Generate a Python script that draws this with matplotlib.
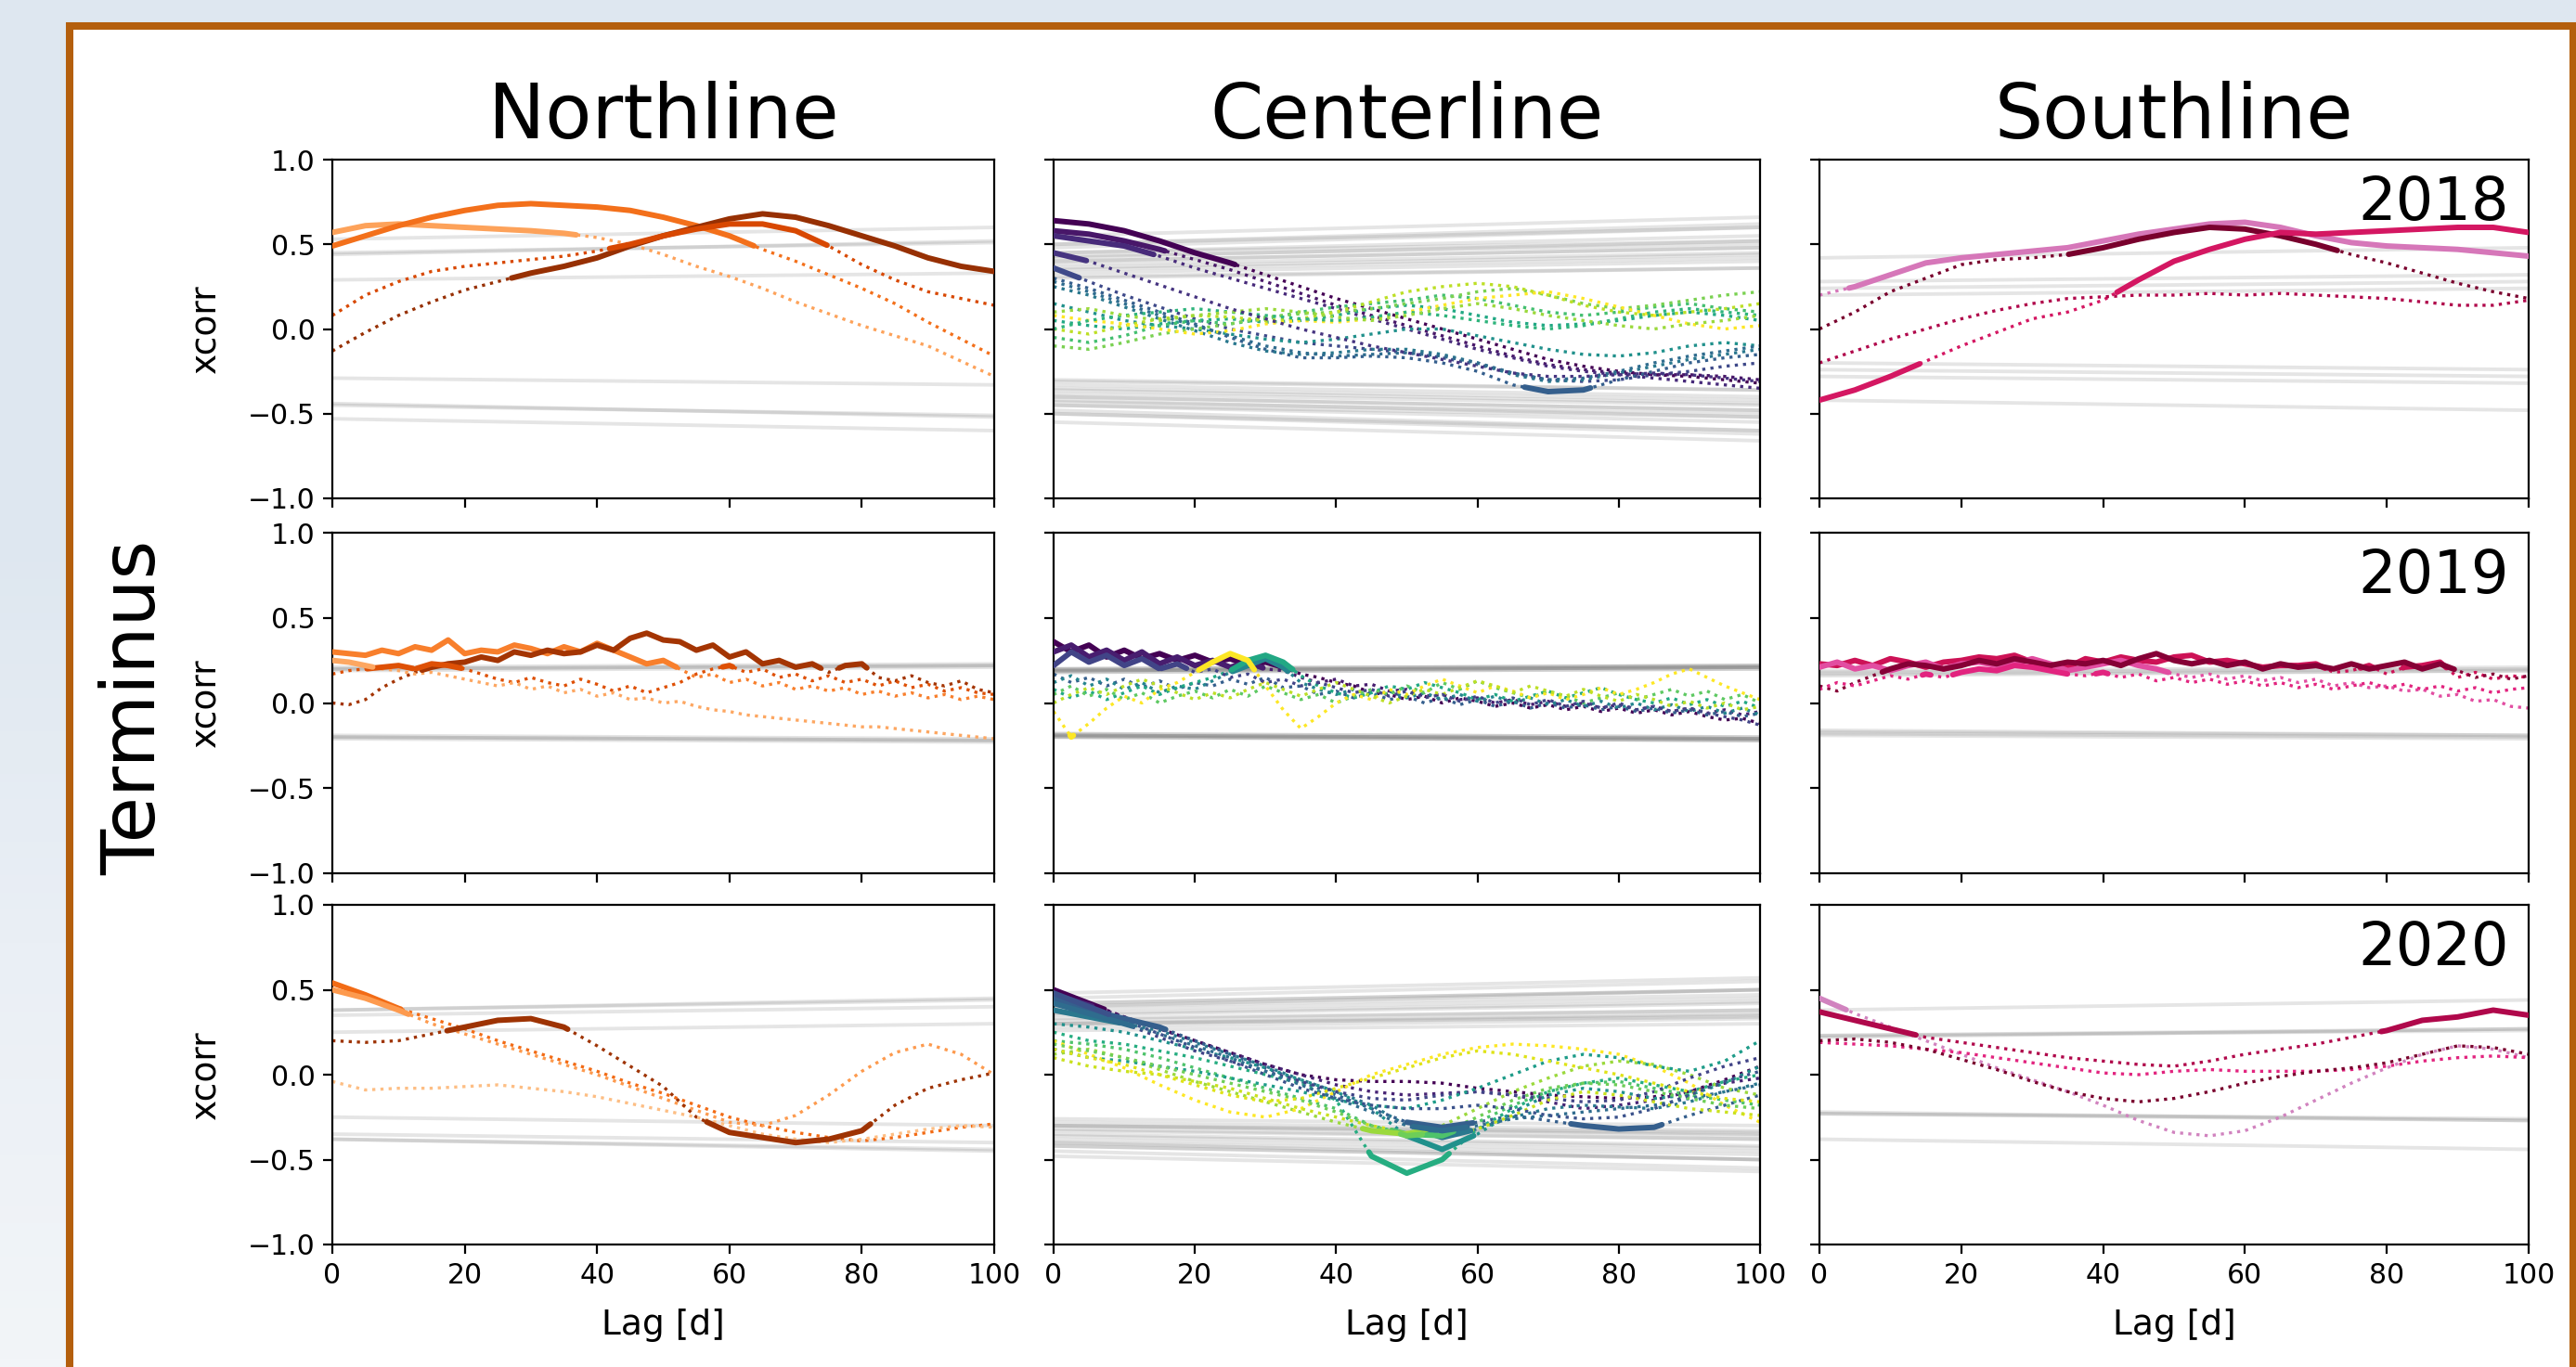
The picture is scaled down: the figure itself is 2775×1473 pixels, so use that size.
import numpy as np
import matplotlib
matplotlib.use('Agg')
import matplotlib.pyplot as plt
from matplotlib import patches
from matplotlib.colors import LinearSegmentedColormap

matplotlib.rcParams.update({
    'font.family': 'DejaVu Sans',
    'axes.linewidth': 1.6,
    'xtick.major.width': 1.6,
    'ytick.major.width': 1.6,
    'xtick.major.size': 6.9,
    'ytick.major.size': 6.9,
    'xtick.major.pad': 6.5,
    'ytick.major.pad': 6.5,
    'xtick.labelsize': 21.5,
    'ytick.labelsize': 21.5,
})

W, H = 2775, 1473

COLUMNS = ['Northline', 'Centerline', 'Southline']
YEARS = ['2018', '2019', '2020']
CMAPS = ['Oranges', 'viridis', 'PuRd']

LAG5 = [0, 5, 10, 15, 20, 25, 30, 35, 40, 45, 50, 55, 60, 65, 70, 75, 80, 85, 90, 95, 100]
LAG25 = [0, 2.5, 5, 7.5, 10, 12.5, 15, 17.5, 20, 22.5, 25, 27.5, 30, 32.5, 35, 37.5, 40,
         42.5, 45, 47.5, 50, 52.5, 55, 57.5, 60, 62.5, 65, 67.5, 70, 72.5, 75, 77.5, 80,
         82.5, 85, 87.5, 90, 92.5, 95, 97.5, 100]

# ---- Northline -------------------------------------------------------------
N18_SHADE = [0.42, 0.6, 0.92, 0.75]
N18_THR0 = [0.53, 0.44, 0.29, 0.45]
N18_THR1 = [0.60, 0.52, 0.33, 0.51]
N18_XCORR = [
    [0.57, 0.61, 0.62, 0.61, 0.60, 0.59, 0.58, 0.565, 0.54, 0.50, 0.44, 0.37, 0.31, 0.24, 0.16, 0.09, 0.02, -0.04, -0.10, -0.19, -0.28],
    [0.49, 0.55, 0.61, 0.66, 0.70, 0.73, 0.74, 0.73, 0.72, 0.70, 0.66, 0.61, 0.55, 0.47, 0.40, 0.32, 0.24, 0.15, 0.04, -0.06, -0.16],
    [-0.13, -0.02, 0.08, 0.16, 0.23, 0.28, 0.33, 0.37, 0.42, 0.49, 0.55, 0.60, 0.65, 0.68, 0.66, 0.61, 0.55, 0.49, 0.42, 0.37, 0.34],
    [0.08, 0.20, 0.28, 0.34, 0.37, 0.39, 0.41, 0.43, 0.46, 0.50, 0.55, 0.59, 0.62, 0.62, 0.58, 0.49, 0.38, 0.29, 0.22, 0.18, 0.14],
]

N19_SHADE = [0.55, 0.88, 0.72, 0.4]
N19_THR0 = [0.20, 0.19, 0.20, 0.21]
N19_THR1 = [0.22, 0.21, 0.22, 0.23]
N19_XCORR = [
    [0.30, 0.29, 0.28, 0.31, 0.29, 0.33, 0.31, 0.37, 0.29, 0.31,
     0.30, 0.34, 0.32, 0.29, 0.33, 0.30, 0.35, 0.31, 0.27, 0.23,
     0.25, 0.20, 0.15, 0.17, 0.12, 0.14, 0.10, 0.12, 0.08, 0.10,
     0.07, 0.09, 0.05, 0.07, 0.04, 0.06, 0.03, 0.05, 0.02, 0.04, 0.02],
    [0.00, -0.01, 0.02, 0.09, 0.14, 0.18, 0.21, 0.23, 0.24, 0.27,
     0.25, 0.30, 0.28, 0.31, 0.29, 0.30, 0.34, 0.31, 0.38, 0.41,
     0.37, 0.36, 0.31, 0.34, 0.27, 0.30, 0.23, 0.25, 0.21, 0.23,
     0.18, 0.22, 0.23, 0.15, 0.13, 0.16, 0.12, 0.10, 0.13, 0.08, 0.06],
    [0.17, 0.19, 0.20, 0.21, 0.22, 0.20, 0.23, 0.22, 0.20, 0.17,
     0.14, 0.12, 0.15, 0.12, 0.10, 0.14, 0.11, 0.07, 0.10, 0.06,
     0.09, 0.12, 0.17, 0.20, 0.22, 0.18, 0.20, 0.15, 0.17, 0.13,
     0.16, 0.12, 0.14, 0.10, 0.13, 0.09, 0.11, 0.07, 0.09, 0.06, 0.05],
    [0.25, 0.24, 0.22, 0.20, 0.19, 0.17, 0.18, 0.16, 0.14, 0.12,
     0.10, 0.12, 0.08, 0.10, 0.06, 0.08, 0.04, 0.06, 0.02, 0.03,
     0.00, 0.01, -0.02, -0.04, -0.05, -0.07, -0.08, -0.09, -0.10, -0.11,
     -0.12, -0.13, -0.14, -0.14, -0.15, -0.16, -0.17, -0.18, -0.19, -0.20, -0.21],
]

N20_SHADE = [0.62, 0.45, 0.9, 0.32]
N20_THR0 = [0.38, 0.35, 0.25, 0.38]
N20_THR1 = [0.44, 0.40, 0.30, 0.45]
N20_XCORR = [
    [0.54, 0.47, 0.39, 0.33, 0.27, 0.20, 0.14, 0.08, 0.02, -0.05, -0.11, -0.18, -0.25, -0.30, -0.34, -0.37, -0.39, -0.37, -0.34, -0.31, -0.29],
    [0.50, 0.45, 0.38, 0.30, 0.24, 0.18, 0.12, 0.06, 0.00, -0.07, -0.14, -0.21, -0.28, -0.30, -0.24, -0.12, 0.02, 0.13, 0.18, 0.12, 0.00],
    [0.20, 0.19, 0.20, 0.24, 0.28, 0.32, 0.33, 0.28, 0.17, 0.05, -0.07, -0.25, -0.34, -0.37, -0.40, -0.38, -0.33, -0.18, -0.08, -0.03, 0.01],
    [-0.04, -0.09, -0.08, -0.08, -0.07, -0.06, -0.08, -0.10, -0.13, -0.17, -0.21, -0.25, -0.30, -0.35, -0.38, -0.40, -0.38, -0.35, -0.32, -0.30, -0.31],
]

# ---- Centerline ------------------------------------------------------------
C18_SHADE = [0.0, 0.06, 0.12, 0.22, 0.3, 0.4, 0.5, 0.6, 0.7, 0.8, 0.9, 1.0, 0.35, 0.65, 0.85, 0.15]
C18_THR0 = [0.36, 0.45, 0.43, 0.30, 0.31, 0.35, 0.38, 0.40, 0.45, 0.48, 0.50, 0.55, 0.33, 0.42, 0.50, 0.40]
C18_THR1 = [0.44, 0.52, 0.50, 0.36, 0.36, 0.42, 0.45, 0.48, 0.55, 0.60, 0.62, 0.66, 0.40, 0.52, 0.60, 0.48]
C18_XCORR = [
    [0.64, 0.62, 0.58, 0.52, 0.45, 0.39, 0.32, 0.25, 0.18, 0.12, 0.06, 0.00, -0.06, -0.12, -0.18, -0.22, -0.25, -0.27, -0.28, -0.30, -0.32],
    [0.58, 0.56, 0.52, 0.47, 0.41, 0.35, 0.28, 0.21, 0.14, 0.08, 0.02, -0.04, -0.10, -0.16, -0.21, -0.24, -0.26, -0.27, -0.27, -0.28, -0.30],
    [0.55, 0.52, 0.49, 0.43, 0.36, 0.30, 0.24, 0.18, 0.12, 0.06, 0.00, -0.06, -0.12, -0.17, -0.22, -0.25, -0.27, -0.29, -0.31, -0.33, -0.35],
    [0.36, 0.28, 0.20, 0.13, 0.06, 0.00, -0.04, -0.08, -0.10, -0.12, -0.14, -0.17, -0.21, -0.26, -0.30, -0.31, -0.30, -0.27, -0.25, -0.22, -0.20],
    [0.30, 0.24, 0.17, 0.10, 0.03, -0.05, -0.12, -0.17, -0.17, -0.16, -0.17, -0.20, -0.25, -0.33, -0.37, -0.36, -0.30, -0.25, -0.20, -0.17, -0.15],
    [0.25, 0.20, 0.13, 0.06, -0.01, -0.08, -0.13, -0.15, -0.14, -0.12, -0.12, -0.15, -0.20, -0.27, -0.31, -0.30, -0.26, -0.22, -0.18, -0.15, -0.12],
    [0.15, 0.10, 0.05, 0.02, 0.00, -0.03, -0.06, -0.08, -0.06, -0.03, 0.00, 0.00, -0.04, -0.08, -0.12, -0.15, -0.16, -0.14, -0.10, -0.08, -0.10],
    [0.05, 0.02, 0.00, 0.03, 0.05, 0.06, 0.04, 0.05, 0.08, 0.12, 0.14, 0.12, 0.08, 0.04, 0.02, 0.03, 0.05, 0.08, 0.10, 0.08, 0.05],
    [-0.05, -0.08, -0.04, 0.02, 0.05, 0.03, 0.06, 0.10, 0.13, 0.15, 0.17, 0.20, 0.18, 0.14, 0.10, 0.08, 0.10, 0.13, 0.15, 0.12, 0.10],
    [-0.10, -0.12, -0.08, -0.03, 0.00, 0.03, 0.07, 0.09, 0.10, 0.12, 0.15, 0.18, 0.22, 0.24, 0.20, 0.15, 0.12, 0.14, 0.17, 0.20, 0.22],
    [0.00, -0.03, 0.02, 0.06, 0.08, 0.07, 0.05, 0.06, 0.10, 0.16, 0.22, 0.25, 0.27, 0.25, 0.20, 0.14, 0.10, 0.08, 0.10, 0.12, 0.15],
    [0.08, 0.05, 0.03, 0.00, -0.03, -0.01, 0.03, 0.05, 0.04, 0.06, 0.10, 0.14, 0.18, 0.20, 0.22, 0.18, 0.13, 0.08, 0.03, 0.00, 0.02],
    [0.28, 0.22, 0.15, 0.08, 0.02, -0.04, -0.10, -0.14, -0.16, -0.15, -0.14, -0.16, -0.20, -0.26, -0.30, -0.29, -0.25, -0.20, -0.16, -0.13, -0.10],
    [0.00, 0.05, 0.08, 0.10, 0.12, 0.10, 0.08, 0.06, 0.05, 0.07, 0.10, 0.08, 0.05, 0.02, 0.00, 0.02, 0.06, 0.10, 0.12, 0.10, 0.08],
    [0.10, 0.12, 0.08, 0.05, 0.08, 0.10, 0.12, 0.10, 0.07, 0.05, 0.08, 0.12, 0.15, 0.12, 0.08, 0.05, 0.02, 0.00, 0.03, 0.05, 0.08],
    [0.45, 0.40, 0.33, 0.26, 0.19, 0.12, 0.06, 0.00, -0.05, -0.10, -0.14, -0.18, -0.22, -0.26, -0.28, -0.28, -0.27, -0.26, -0.27, -0.29, -0.31],
]

C19_SHADE = [0.0, 0.08, 0.3, 0.45, 0.6, 0.75, 1.0, 0.9, 0.2]
C19_THR0 = [0.19, 0.20, 0.19, 0.18, 0.19, 0.20, 0.19, 0.18, 0.20]
C19_THR1 = [0.21, 0.22, 0.21, 0.20, 0.21, 0.22, 0.21, 0.20, 0.22]
C19_XCORR = [
    [0.36, 0.30, 0.34, 0.27, 0.31, 0.26, 0.29, 0.25, 0.28, 0.24,
     0.26, 0.22, 0.24, 0.21, 0.17, 0.15, 0.12, 0.10, 0.06, 0.05,
     0.02, 0.04, 0.00, 0.03, 0.01, -0.02, 0.00, -0.03, -0.01, -0.04,
     -0.02, -0.05, -0.03, -0.06, -0.04, -0.07, -0.05, -0.08, -0.10, -0.09, -0.12],
    [0.30, 0.34, 0.27, 0.31, 0.25, 0.30, 0.23, 0.27, 0.22, 0.25,
     0.21, 0.24, 0.20, 0.19, 0.15, 0.12, 0.14, 0.10, 0.11, 0.07,
     0.08, 0.04, 0.05, 0.02, 0.03, 0.00, 0.02, -0.01, 0.01, -0.02,
     0.00, -0.03, -0.01, -0.04, -0.02, -0.05, -0.03, -0.06, -0.04, -0.07, -0.05],
    [0.17, 0.12, 0.15, 0.10, 0.14, 0.09, 0.13, 0.08, 0.12, 0.10,
     0.14, 0.11, 0.15, 0.09, 0.10, 0.05, 0.07, 0.03, 0.06, 0.02,
     0.04, 0.00, 0.03, -0.01, 0.02, -0.02, 0.01, -0.03, 0.00, -0.03,
     -0.01, -0.04, -0.02, -0.05, -0.03, -0.06, -0.04, -0.07, -0.05, -0.08, -0.06],
    [0.12, 0.16, 0.10, 0.14, 0.08, 0.12, 0.06, 0.10, 0.08, 0.13,
     0.18, 0.22, 0.26, 0.21, 0.12, 0.08, 0.05, 0.08, 0.04, 0.07,
     0.03, 0.06, 0.02, 0.05, 0.01, 0.04, 0.00, 0.03, -0.01, 0.02,
     -0.02, 0.01, -0.03, 0.00, -0.04, -0.01, -0.05, -0.02, -0.06, -0.03, -0.07],
    [0.08, 0.03, 0.07, 0.02, 0.06, 0.10, 0.05, 0.09, 0.12, 0.15,
     0.19, 0.25, 0.28, 0.24, 0.16, 0.10, 0.06, 0.03, 0.06, 0.10,
     0.08, 0.12, 0.09, 0.06, 0.02, 0.05, 0.01, 0.04, 0.07, 0.03,
     0.06, 0.09, 0.05, 0.02, 0.00, 0.03, -0.01, 0.02, -0.02, 0.01, -0.03],
    [0.05, 0.10, 0.04, 0.08, 0.02, 0.06, 0.00, 0.04, 0.07, 0.03,
     0.08, 0.04, 0.10, 0.06, 0.02, 0.05, 0.00, 0.04, 0.08, 0.05,
     0.10, 0.06, 0.12, 0.08, 0.13, 0.09, 0.06, 0.03, 0.07, 0.04,
     0.00, 0.03, 0.06, 0.02, 0.05, 0.08, 0.04, 0.07, 0.02, 0.05, 0.00],
    [-0.05, -0.20, -0.12, -0.03, 0.04, 0.00, 0.08, 0.12, 0.18, 0.24,
     0.29, 0.25, 0.10, -0.04, -0.15, -0.08, 0.00, 0.05, 0.02, 0.08,
     0.05, 0.10, 0.14, 0.10, 0.06, 0.10, 0.07, 0.03, 0.06, 0.02,
     0.05, 0.09, 0.05, 0.08, 0.12, 0.17, 0.20, 0.15, 0.10, 0.06, 0.02],
    [0.00, 0.05, 0.09, 0.05, 0.10, 0.14, 0.10, 0.06, 0.02, 0.06,
     0.03, 0.08, 0.12, 0.08, 0.04, 0.08, 0.12, 0.08, 0.04, 0.00,
     0.04, 0.08, 0.05, 0.09, 0.13, 0.10, 0.06, 0.10, 0.07, 0.04,
     0.08, 0.04, 0.01, 0.05, 0.02, -0.02, 0.01, -0.03, 0.00, -0.04, -0.02],
    [0.22, 0.30, 0.24, 0.28, 0.22, 0.26, 0.20, 0.23, 0.18, 0.20,
     0.15, 0.17, 0.12, 0.14, 0.10, 0.12, 0.09, 0.06, 0.08, 0.04,
     0.07, 0.03, 0.05, 0.01, 0.04, 0.00, 0.03, -0.01, 0.02, -0.02,
     0.01, -0.03, 0.00, -0.04, -0.02, -0.05, -0.03, -0.06, -0.08, -0.10, -0.13],
]

C20_SHADE = [0.0, 0.1, 0.3, 0.4, 0.5, 0.62, 0.72, 0.85, 1.0, 0.2, 0.55, 0.92, 0.35, 0.78, 0.95, 0.25]
C20_THR0 = [0.38, 0.40, 0.26, 0.30, 0.33, 0.42, 0.30, 0.30, 0.45, 0.42, 0.48, 0.36, 0.28, 0.32, 0.40, 0.35]
C20_THR1 = [0.45, 0.47, 0.30, 0.35, 0.38, 0.50, 0.36, 0.34, 0.55, 0.50, 0.57, 0.43, 0.33, 0.38, 0.50, 0.42]
C20_XCORR = [
    [0.50, 0.42, 0.34, 0.27, 0.20, 0.13, 0.06, 0.00, -0.03, -0.04, -0.04, -0.05, -0.08, -0.10, -0.12, -0.13, -0.14, -0.13, -0.10, -0.03, 0.05],
    [0.47, 0.41, 0.34, 0.27, 0.20, 0.13, 0.06, 0.00, -0.06, -0.10, -0.12, -0.11, -0.10, -0.12, -0.16, -0.20, -0.18, -0.15, -0.10, -0.05, -0.02],
    [0.45, 0.38, 0.33, 0.28, 0.20, 0.12, 0.04, -0.04, -0.12, -0.20, -0.28, -0.31, -0.28, -0.24, -0.27, -0.30, -0.32, -0.31, -0.24, -0.18, -0.12],
    [0.38, 0.34, 0.30, 0.26, 0.19, 0.12, 0.05, -0.03, -0.10, -0.18, -0.30, -0.37, -0.32, -0.25, -0.20, -0.18, -0.19, -0.20, -0.16, -0.10, -0.05],
    [0.30, 0.28, 0.25, 0.20, 0.15, 0.10, 0.04, -0.03, -0.10, -0.20, -0.36, -0.44, -0.35, -0.22, -0.12, -0.08, -0.10, -0.14, -0.12, -0.05, 0.05],
    [0.25, 0.20, 0.18, 0.14, 0.10, 0.05, 0.00, -0.05, -0.15, -0.48, -0.58, -0.50, -0.32, -0.20, -0.10, -0.05, -0.02, -0.06, -0.10, -0.04, 0.00],
    [0.20, 0.18, 0.15, 0.10, 0.04, -0.02, -0.08, -0.14, -0.20, -0.30, -0.35, -0.36, -0.28, -0.18, -0.10, -0.05, -0.04, -0.08, -0.12, -0.15, -0.18],
    [0.12, 0.15, 0.10, 0.03, -0.04, -0.10, -0.16, -0.22, -0.28, -0.33, -0.35, -0.30, -0.20, -0.10, -0.02, 0.05, 0.08, 0.06, 0.00, -0.08, -0.12],
    [0.20, 0.12, 0.04, -0.06, -0.15, -0.22, -0.25, -0.20, -0.10, 0.00, 0.06, 0.12, 0.16, 0.18, 0.17, 0.15, 0.12, 0.05, -0.05, -0.18, -0.28],
    [0.42, 0.36, 0.30, 0.22, 0.14, 0.08, 0.02, -0.04, -0.10, -0.14, -0.15, -0.12, -0.10, -0.12, -0.14, -0.16, -0.15, -0.10, -0.02, 0.05, 0.10],
    [0.15, 0.10, 0.08, 0.05, 0.02, -0.02, -0.06, -0.10, -0.15, -0.18, -0.20, -0.15, -0.08, 0.00, 0.08, 0.12, 0.10, 0.05, 0.02, 0.08, 0.20],
    [0.10, 0.05, 0.02, 0.00, -0.04, -0.08, -0.14, -0.20, -0.25, -0.30, -0.34, -0.36, -0.32, -0.24, -0.15, -0.10, -0.12, -0.16, -0.20, -0.22, -0.24],
    [0.42, 0.36, 0.30, 0.24, 0.17, 0.10, 0.02, -0.06, -0.14, -0.22, -0.30, -0.33, -0.30, -0.26, -0.24, -0.22, -0.20, -0.18, -0.14, -0.10, -0.06],
    [0.18, 0.14, 0.10, 0.05, 0.00, -0.05, -0.10, -0.15, -0.22, -0.30, -0.36, -0.34, -0.25, -0.15, -0.08, -0.05, -0.06, -0.10, -0.14, -0.18, -0.20],
    [0.15, 0.10, 0.06, 0.00, -0.06, -0.12, -0.16, -0.14, -0.08, -0.02, 0.04, 0.10, 0.14, 0.12, 0.08, 0.04, 0.00, -0.05, -0.10, -0.14, -0.16],
    [0.48, 0.40, 0.32, 0.24, 0.16, 0.08, 0.00, -0.08, -0.14, -0.18, -0.20, -0.20, -0.18, -0.20, -0.24, -0.26, -0.25, -0.20, -0.12, -0.04, 0.02],
]

# ---- Southline -------------------------------------------------------------
S18_SHADE = [0.45, 0.95, 0.72, 0.82]
S18_THR0 = [0.24, 0.42, 0.20, 0.28]
S18_THR1 = [0.28, 0.48, 0.24, 0.32]
S18_XCORR = [
    [0.20, 0.25, 0.32, 0.39, 0.42, 0.44, 0.46, 0.48, 0.52, 0.56, 0.59, 0.62, 0.63, 0.60, 0.55, 0.51, 0.49, 0.48, 0.47, 0.45, 0.43],
    [0.00, 0.10, 0.22, 0.30, 0.38, 0.41, 0.42, 0.44, 0.48, 0.53, 0.57, 0.60, 0.59, 0.55, 0.50, 0.44, 0.39, 0.33, 0.27, 0.22, 0.18],
    [-0.42, -0.36, -0.28, -0.19, -0.10, -0.02, 0.06, 0.10, 0.17, 0.29, 0.40, 0.47, 0.53, 0.57, 0.56, 0.57, 0.58, 0.59, 0.60, 0.60, 0.57],
    [-0.20, -0.13, -0.06, 0.00, 0.06, 0.11, 0.15, 0.18, 0.19, 0.20, 0.20, 0.21, 0.20, 0.21, 0.20, 0.19, 0.18, 0.16, 0.14, 0.14, 0.17],
]

S19_SHADE = [0.75, 0.55, 0.92, 0.65]
S19_THR0 = [0.19, 0.17, 0.18, 0.16]
S19_THR1 = [0.21, 0.19, 0.20, 0.19]
S19_XCORR = [
    [0.23, 0.22, 0.25, 0.22, 0.26, 0.24, 0.21, 0.24, 0.25, 0.27,
     0.26, 0.28, 0.24, 0.22, 0.21, 0.26, 0.24, 0.27, 0.25, 0.24,
     0.27, 0.28, 0.24, 0.25, 0.23, 0.21, 0.22, 0.22, 0.23, 0.18,
     0.19, 0.22, 0.17, 0.21, 0.22, 0.24, 0.15, 0.18, 0.14, 0.16, 0.15],
    [0.21, 0.24, 0.20, 0.22, 0.19, 0.22, 0.24, 0.20, 0.23, 0.24,
     0.22, 0.23, 0.26, 0.23, 0.19, 0.21, 0.23, 0.25, 0.22, 0.20,
     0.17, 0.15, 0.17, 0.14, 0.16, 0.13, 0.15, 0.12, 0.14, 0.10,
     0.12, 0.09, 0.10, 0.07, 0.08, 0.04, 0.05, 0.01, 0.02, -0.02, -0.03],
    [0.10, 0.07, 0.12, 0.16, 0.20, 0.23, 0.22, 0.20, 0.22, 0.25,
     0.23, 0.26, 0.24, 0.22, 0.24, 0.23, 0.25, 0.22, 0.26, 0.29,
     0.25, 0.23, 0.25, 0.22, 0.24, 0.20, 0.23, 0.21, 0.22, 0.20,
     0.23, 0.20, 0.22, 0.24, 0.20, 0.23, 0.19, 0.15, 0.17, 0.14, 0.16],
    [0.08, 0.12, 0.10, 0.13, 0.16, 0.14, 0.17, 0.15, 0.18, 0.20,
     0.19, 0.22, 0.21, 0.19, 0.17, 0.16, 0.18, 0.15, 0.17, 0.13,
     0.15, 0.12, 0.14, 0.11, 0.13, 0.10, 0.12, 0.09, 0.11, 0.08,
     0.10, 0.12, 0.09, 0.11, 0.08, 0.10, 0.07, 0.09, 0.06, 0.08, 0.09],
]

S20_SHADE = [0.42, 0.82, 0.65, 0.95]
S20_THR0 = [0.38, 0.23, 0.22, 0.23]
S20_THR1 = [0.44, 0.26, 0.27, 0.27]
S20_XCORR = [
    [0.45, 0.36, 0.28, 0.20, 0.12, 0.04, -0.03, -0.10, -0.18, -0.27, -0.34, -0.36, -0.33, -0.25, -0.15, -0.05, 0.04, 0.12, 0.17, 0.15, 0.10],
    [0.37, 0.32, 0.27, 0.22, 0.19, 0.16, 0.13, 0.10, 0.08, 0.06, 0.05, 0.08, 0.12, 0.15, 0.18, 0.22, 0.26, 0.32, 0.34, 0.38, 0.35],
    [0.19, 0.18, 0.17, 0.15, 0.13, 0.10, 0.07, 0.04, 0.01, 0.00, 0.02, 0.03, 0.02, 0.02, 0.02, 0.03, 0.05, 0.08, 0.10, 0.11, 0.10],
    [0.20, 0.21, 0.19, 0.15, 0.09, 0.03, -0.04, -0.10, -0.14, -0.16, -0.14, -0.10, -0.05, -0.01, 0.02, 0.04, 0.07, 0.12, 0.17, 0.16, 0.12],
]

PANELS = [
    [(LAG5, N18_XCORR, N18_SHADE, N18_THR0, N18_THR1),
     (LAG5, C18_XCORR, C18_SHADE, C18_THR0, C18_THR1),
     (LAG5, S18_XCORR, S18_SHADE, S18_THR0, S18_THR1)],
    [(LAG25, N19_XCORR, N19_SHADE, N19_THR0, N19_THR1),
     (LAG25, C19_XCORR, C19_SHADE, C19_THR0, C19_THR1),
     (LAG25, S19_XCORR, S19_SHADE, S19_THR0, S19_THR1)],
    [(LAG5, N20_XCORR, N20_SHADE, N20_THR0, N20_THR1),
     (LAG5, C20_XCORR, C20_SHADE, C20_THR0, C20_THR1),
     (LAG5, S20_XCORR, S20_SHADE, S20_THR0, S20_THR1)],
]

# axes boxes in pixels of the final image
COL_PX = [(358, 1071), (1135, 1896), (1960, 2724)]
ROW_PX = [(172, 537), (574, 941), (975, 1341)]


def sig_pieces(x, y, thr, sign):
    """Pieces of the curve where sign*y exceeds the threshold."""
    d = sign * y - thr
    pieces, cur = [], []
    for i in range(len(x)):
        if d[i] >= 0:
            if not cur and i > 0:
                f = d[i - 1] / (d[i - 1] - d[i])
                cur.append((x[i - 1] + f * (x[i] - x[i - 1]), y[i - 1] + f * (y[i] - y[i - 1])))
            cur.append((x[i], y[i]))
        elif cur:
            f = d[i - 1] / (d[i - 1] - d[i])
            cur.append((x[i - 1] + f * (x[i] - x[i - 1]), y[i - 1] + f * (y[i] - y[i - 1])))
            pieces.append(cur)
            cur = []
    if cur:
        pieces.append(cur)
    return [np.array(p).T for p in pieces if len(p) > 1]


def draw_panel(ax, lag, curves, shades, thr0, thr1, cmap):
    lag = np.asarray(lag, dtype=float)
    for t0, t1 in zip(thr0, thr1):
        ax.plot([0, 100], [t0, t1], color='gray', alpha=0.2, lw=2.8, zorder=1)
        ax.plot([0, 100], [-t0, -t1], color='gray', alpha=0.2, lw=2.8, zorder=1)
    for ys, c, t0, t1 in zip(curves, shades, thr0, thr1):
        ys = np.asarray(ys, dtype=float)
        col = cmap(c)
        ax.plot(lag, ys, linestyle=':', color=col, lw=2.4, zorder=2)
        thr = np.interp(lag, [0, 100], [t0, t1])
        for sign in (1, -1):
            for px, py in sig_pieces(lag, ys, thr, sign):
                ax.plot(px, py, '-', color=col, lw=4.3, zorder=3,
                        solid_capstyle='round', solid_joinstyle='round')


def main():
    fig = plt.figure(figsize=(W / 100, H / 100), dpi=100, facecolor='#dee7f0')

    # pale snowy fade on the left strip of the slide background
    bg = fig.add_axes([0, 0, 72 / W, 1 - 560 / H], zorder=-20)
    fade = LinearSegmentedColormap.from_list('fade', ['#dee7f0', '#eaeff5', '#f2f5f8'])
    bg.imshow(np.linspace(0, 1, 100)[:, None], aspect='auto', cmap=fade)
    bg.axis('off')

    # framed white panel
    frame = patches.Rectangle((75 / W, -0.05), (2772 - 75) / W, 1.05 - 28 / H,
                              transform=fig.transFigure, facecolor='white',
                              edgecolor='#b45f0d', linewidth=5.8, zorder=-10)
    fig.add_artist(frame)

    for r in range(3):
        for c in range(3):
            x0, x1 = COL_PX[c]
            y0, y1 = ROW_PX[r]
            ax = fig.add_axes([x0 / W, 1 - y1 / H, (x1 - x0) / W, (y1 - y0) / H])
            lag, curves, shades, t0, t1 = PANELS[r][c]
            draw_panel(ax, lag, curves, shades, t0, t1, matplotlib.colormaps[CMAPS[c]])
            ax.set_xlim(0, 100)
            ax.set_ylim(-1, 1)
            ax.set_xticks([0, 20, 40, 60, 80, 100])
            ax.set_yticks([-1.0, -0.5, 0.0, 0.5, 1.0])
            ax.tick_params(labelbottom=(r == 2), labelleft=(c == 0))
            if c == 2:
                ax.text(0.9725, 0.822, YEARS[r], transform=ax.transAxes,
                        ha='right', va='baseline', fontsize=46)
            if c == 0:
                fig.text(222 / W, 1 - (y0 + y1) / 2 / H, 'xcorr', rotation=90,
                         ha='center', va='center', fontsize=27)
            if r == 0:
                fig.text((x0 + x1) / 2 / W, 1 - 149 / H, COLUMNS[c],
                         ha='center', va='baseline', fontsize=59)
            if r == 2:
                fig.text((x0 + x1) / 2 / W, 1 - 1438 / H, 'Lag [d]',
                         ha='center', va='baseline', fontsize=27)

    fig.text(145 / W, 1 - 762 / H, 'Terminus', rotation=90,
             ha='center', va='center', fontsize=58)

    fig.savefig('out.png', dpi=100, facecolor=fig.get_facecolor())
    plt.close(fig)


if __name__ == '__main__':
    main()
